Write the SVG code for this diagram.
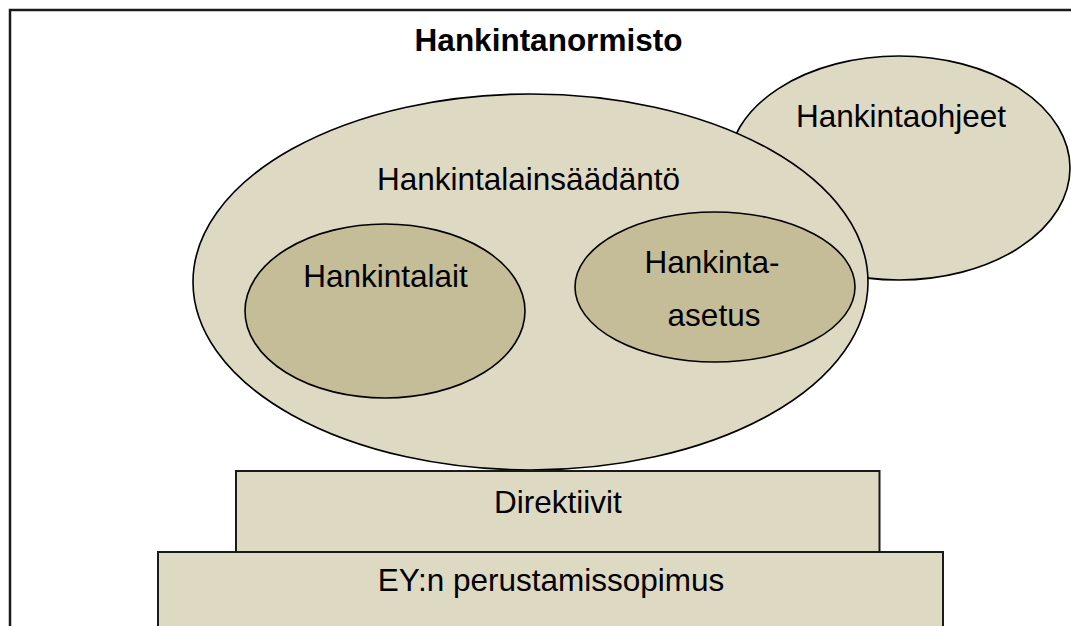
<svg xmlns="http://www.w3.org/2000/svg" width="1071" height="626" viewBox="0 0 1071 626">
  <style>
    .frame { fill: #ffffff; stroke: #1a1a1a; stroke-width: 2.5; }
    .outer { fill: #ddd9c3; stroke: #000000; stroke-width: 1.6; }
    .inner { fill: #c4bd97; stroke: #000000; stroke-width: 1.6; }
    .base { fill: #ddd9c3; stroke: #1a1a1a; stroke-width: 2; }
    .lbl { font-family: "Liberation Sans", Arial, sans-serif; font-size: 31.5px; fill: #000000; text-anchor: middle; }
    .title { font-weight: bold; }
  </style>

  <!-- page frame (open to the right and bottom) -->
  <rect class="frame" x="10" y="10" width="1100" height="700"/>

  <g id="title">
    <text class="lbl title" x="548.5" y="51">Hankintanormisto</text>
  </g>

  <g id="hankintaohjeet">
    <ellipse class="outer" cx="899" cy="168" rx="171" ry="112"/>
    <text class="lbl" x="901" y="127">Hankintaohjeet</text>
  </g>

  <g id="hankintalainsaadanto">
    <ellipse class="outer" cx="530.5" cy="282" rx="337.5" ry="188"/>
    <text class="lbl" x="528.5" y="190">Hankintalainsäädäntö</text>
  </g>

  <g id="hankintalait">
    <ellipse class="inner" cx="385" cy="311" rx="140" ry="87"/>
    <text class="lbl" x="385.5" y="287">Hankintalait</text>
  </g>

  <g id="hankinta-asetus">
    <ellipse class="inner" cx="715" cy="287" rx="140" ry="75"/>
    <text class="lbl" x="712" y="273">Hankinta-</text>
    <text class="lbl" x="714" y="326">asetus</text>
  </g>

  <g id="direktiivit">
    <rect class="base" x="236" y="471" width="643.5" height="81"/>
    <text class="lbl" x="558" y="513">Direktiivit</text>
  </g>

  <g id="ey-perustamissopimus">
    <rect class="base" x="158" y="552" width="785" height="100"/>
    <text class="lbl" x="551" y="591">EY:n perustamissopimus</text>
  </g>

  <g id="connectors"></g>
</svg>
